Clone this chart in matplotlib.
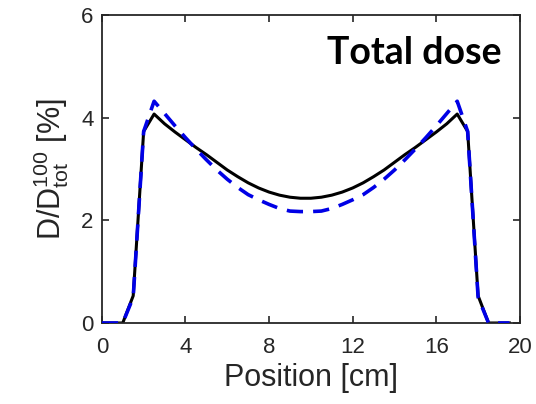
import matplotlib
matplotlib.use('Agg')
import matplotlib.pyplot as plt
import numpy as np

# sampled every 0.5 cm
pos = np.arange(0, 20, 0.5)

dose_ref = [0, 0, 0, 0.53, 3.73, 4.07, 3.88, 3.72, 3.57, 3.42,
            3.28, 3.13, 2.98, 2.85, 2.73, 2.63, 2.55, 2.49, 2.45, 2.43,
            2.43, 2.45, 2.49, 2.55, 2.63, 2.73, 2.85, 2.98, 3.13, 3.28,
            3.42, 3.57, 3.72, 3.88, 4.07, 3.73, 0.53, 0, 0, 0]

dose_calc = [0, 0, 0, 0.50, 3.73, 4.32, 4.08, 3.84, 3.61, 3.39,
             3.18, 2.98, 2.80, 2.64, 2.50, 2.40, 2.31, 2.23, 2.18, 2.17,
             2.17, 2.18, 2.23, 2.31, 2.40, 2.50, 2.64, 2.80, 2.98, 3.18,
             3.39, 3.61, 3.84, 4.08, 4.32, 3.73, 0.50, 0, 0, 0]

xticks = [0, 4, 8, 12, 16, 20]
yticks = [0, 2, 4, 6]

plt.rcParams['font.family'] = ['Liberation Sans', 'DejaVu Sans']
plt.rcParams['mathtext.fontset'] = 'custom'
plt.rcParams['mathtext.rm'] = 'Liberation Sans'
plt.rcParams['mathtext.it'] = 'Liberation Sans'

fig = plt.figure(figsize=(5.36, 4.04), dpi=100)
ax = fig.add_axes([0.190, 0.2005, 0.780, 0.7625])

ax.plot(pos, dose_ref, color='black', lw=2.2, zorder=2)
ax.plot(pos, dose_calc, color='#0000e6', lw=2.6, ls=(0, (4.5, 2.8)), zorder=3)

ax.set_xlim(0, 20)
ax.set_ylim(0, 6)
ax.set_xticks(xticks)
ax.set_yticks(yticks)
ax.tick_params(direction='in', length=5, width=1.2, top=True, right=True,
               labelsize=16, colors='#262626', labelcolor='#262626')
ax.tick_params(axis='x', pad=10)
ax.tick_params(axis='y', pad=6)
for s in ax.spines.values():
    s.set_linewidth(1.3)
    s.set_color('#262626')

ax.set_xlabel('Position [cm]', fontsize=22, color='#262626', labelpad=4)
ax.set_ylabel(r'D/D$_{\rm tot}^{100}$ [%]', fontsize=22, color='#262626', labelpad=7)

ax.text(0.957, 0.84, 'Total dose', transform=ax.transAxes, ha='right',
        va='baseline', fontsize=27, fontweight='bold', family='Lato')

fig.savefig('out.png', dpi=100)
